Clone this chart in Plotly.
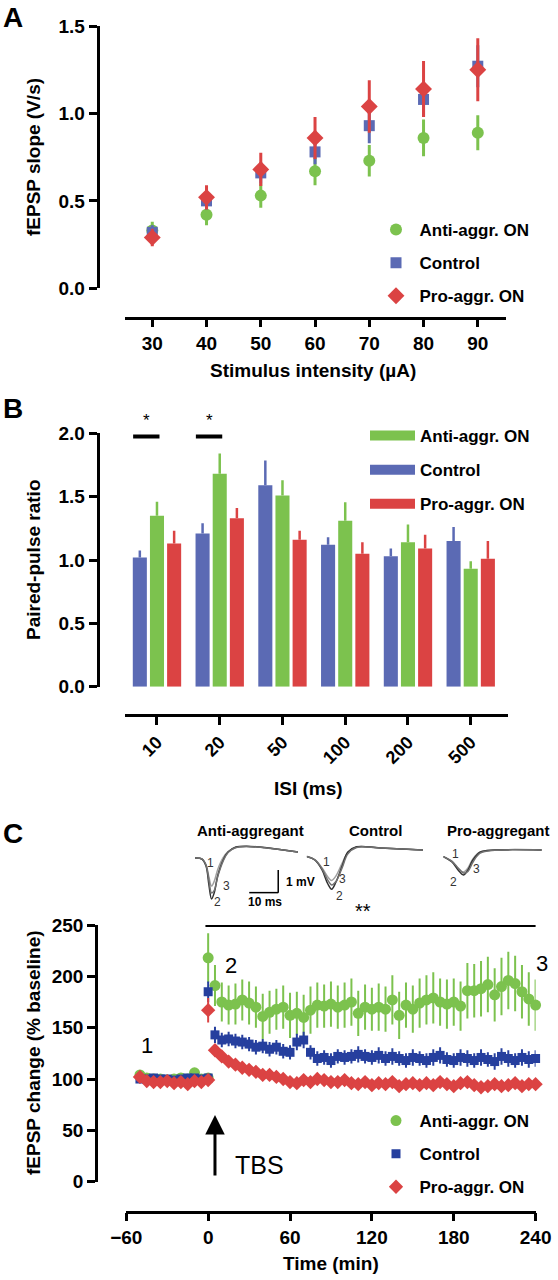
import plotly.graph_objects as go

W, H = 558, 1280
FONT = "Liberation Sans, Arial, sans-serif"

GREEN = "#7CC24E"
BLUE_A = "#5B6AB4"
BLUE_C = "#263F9E"
RED = "#DB4343"

# ---------------- Panel A data ----------------
stim = [30, 40, 50, 60, 70, 80, 90]
a_anti = [0.33, 0.42, 0.53, 0.67, 0.73, 0.86, 0.89]
a_anti_err = [0.05, 0.06, 0.07, 0.08, 0.09, 0.105, 0.10]
a_ctrl = [0.32, 0.50, 0.66, 0.78, 0.93, 1.08, 1.27]
a_ctrl_err = [0.04, 0.05, 0.06, 0.07, 0.10, 0.10, 0.12]
a_pro = [0.29, 0.52, 0.68, 0.86, 1.04, 1.14, 1.25]
a_pro_err = [0.05, 0.07, 0.095, 0.12, 0.15, 0.16, 0.18]

# ---------------- Panel B data ----------------
isi = ["10", "20", "50", "100", "200", "500"]
b_ctrl = [1.02, 1.21, 1.59, 1.12, 1.03, 1.15]
b_ctrl_err = [0.055, 0.08, 0.195, 0.06, 0.06, 0.11]
b_anti = [1.35, 1.68, 1.51, 1.31, 1.14, 0.93]
b_anti_err = [0.11, 0.16, 0.12, 0.145, 0.14, 0.06]
b_pro = [1.13, 1.33, 1.16, 1.05, 1.09, 1.01]
b_pro_err = [0.10, 0.08, 0.07, 0.09, 0.11, 0.14]
sig_isi = ["10", "20"]
sig_text = ["*", "*"]

# ---------------- Panel C data ----------------
base_t = [-50, -45, -40, -35, -30, -25, -20, -15, -10, -5, 0]
post_t = [0, 5, 10, 15, 20, 25, 30, 35, 40, 45, 50, 55, 60, 65, 70, 75, 80, 85, 90, 95,
          100, 105, 110, 115, 120, 125, 130, 135, 140, 145, 150, 155, 160, 165, 170, 175,
          180, 185, 190, 195, 200, 205, 210, 215, 220, 225, 230, 235, 240]
c_anti_base = [104, 101, 100, 100, 99, 100, 101, 100, 106, 100, 101]
c_anti_base_err = [4, 3, 3, 3, 3, 3, 3, 3, 4, 3, 3]
c_ctrl_base = [100, 100, 101, 100, 100, 99, 100, 101, 101, 100, 101]
c_ctrl_base_err = [4, 4, 4, 4, 4, 4, 4, 4, 4, 4, 4]
c_pro_base = [102, 98, 97, 97, 98, 96, 97, 95, 98, 97, 99]
c_pro_base_err = [3, 3, 3, 3, 3, 3, 3, 3, 3, 3, 3]

c_anti_post = [218, 191, 175, 172, 173, 177, 174, 170, 161, 165,
               168, 170, 162, 164, 160, 167, 172, 171, 173, 170,
               172, 175, 164, 170, 168, 170, 168, 177, 162, 172,
               168, 174, 177, 179, 175, 173, 175, 171, 186, 186,
               188, 192, 182, 190, 196, 193, 185, 178, 172]
c_anti_post_err = [24, 20, 19, 19, 20, 20, 21, 20, 22, 21,
                   20, 21, 22, 21, 22, 23, 22, 21, 22, 21,
                   22, 23, 22, 22, 21, 23, 22, 24, 23, 22,
                   23, 24, 24, 25, 23, 24, 23, 24, 27, 26,
                   27, 27, 26, 28, 28, 27, 26, 26, 25]
c_ctrl_post = [185, 143, 138, 139, 137, 136, 134, 131, 132, 129,
               131, 127, 126, 136, 138, 126, 120, 121, 118, 122,
               121, 122, 124, 122, 121, 123, 120, 122, 120, 118,
               121, 120, 118, 121, 123, 119, 118, 121, 120, 118,
               121, 119, 117, 122, 120, 118, 121, 119, 120]
c_ctrl_post_err = [10, 8, 7, 7, 7, 7, 7, 7, 7, 7,
                   7, 7, 7, 8, 8, 7, 7, 7, 7, 7,
                   7, 7, 8, 7, 7, 8, 7, 8, 7, 7,
                   8, 7, 7, 8, 8, 7, 7, 8, 8, 7,
                   8, 7, 8, 8, 8, 7, 8, 8, 8]
c_pro_post = [167, 128, 122, 117, 114, 111, 109, 107, 104, 104,
              102, 100, 97, 96, 99, 97, 100, 99, 97, 97,
              99, 96, 95, 97, 94, 96, 95, 97, 93, 95,
              96, 94, 96, 94, 97, 95, 93, 96, 97, 94,
              92, 93, 95, 93, 94, 96, 93, 95, 95]
c_pro_post_err = [12, 6, 5, 5, 5, 5, 5, 5, 5, 5,
                  5, 5, 5, 5, 5, 5, 5, 5, 5, 5,
                  5, 5, 5, 5, 5, 5, 5, 5, 5, 5,
                  5, 5, 5, 5, 5, 5, 5, 5, 5, 5,
                  5, 5, 5, 5, 5, 5, 5, 5, 5]

# example fEPSP sweeps (ms, mV); 1 = baseline, 2 = post-TBS, 3 = 240 min
anti_ms = [0, 2.4, 3.8, 4.8, 5.7, 6.6, 7.9, 9.7, 11.4, 14.1, 17.6, 24.1, 35.5]
anti_s1 = [-0.26, -0.30, -0.55, -1.10, -1.50, -1.30, -0.75, -0.25, 0.02, 0.20, 0.24, 0.19, 0.0]
anti_s2 = [-0.26, -0.31, -0.62, -1.45, -2.07, -1.81, -1.01, -0.35, 0.0, 0.22, 0.26, 0.20, 0.0]
anti_s3 = [-0.26, -0.30, -0.58, -1.25, -1.80, -1.70, -1.05, -0.40, -0.02, 0.20, 0.25, 0.19, 0.0]
ctrl_ms = [0, 2.8, 5.3, 7.3, 8.6, 10.1, 12.2, 14.2, 17.2, 25.3, 40.1]
ctrl_s1 = [-0.20, -0.33, -0.70, -1.10, -1.25, -1.05, -0.50, -0.02, 0.22, 0.18, 0.09]
ctrl_s2 = [-0.20, -0.35, -0.79, -1.41, -1.64, -1.32, -0.62, 0.0, 0.23, 0.18, 0.09]
ctrl_s3 = [-0.20, -0.34, -0.74, -1.25, -1.45, -1.30, -0.70, -0.08, 0.20, 0.18, 0.09]
pro_ms = [0, 3.0, 5.1, 6.9, 8.5, 10.2, 12.7, 17.8, 33.9]
pro_s1 = [-0.20, -0.40, -0.72, -0.88, -0.70, -0.30, 0.0, 0.09, 0.09]
pro_s2 = [-0.20, -0.44, -0.79, -1.01, -0.79, -0.35, 0.0, 0.09, 0.09]
pro_s3 = [-0.20, -0.42, -0.70, -0.92, -0.85, -0.45, -0.05, 0.08, 0.09]
scale_ms = 10
scale_mv = 1

series_names = ["Anti-aggr. ON", "Control", "Pro-aggr. ON"]


def px(x):
    return x / W


def py(y):
    return 1 - y / H


fig = go.Figure()

# ---------------- Panel A traces ----------------
for name, vals, errs, col, sym, size, grp in [
    (series_names[0], a_anti, a_anti_err, GREEN, "circle", 12, "a1"),
    (series_names[1], a_ctrl, a_ctrl_err, BLUE_A, "square", 11, "a2"),
    (series_names[2], a_pro, a_pro_err, RED, "diamond", 13, "a3"),
]:
    fig.add_trace(go.Scatter(
        x=stim, y=vals, mode="markers", name=name, legend="legend", legendgroup=grp,
        marker=dict(symbol=sym, size=size, color=col, line=dict(width=0)),
        error_y=dict(type="data", array=errs, color=col, thickness=3, width=0),
        xaxis="x", yaxis="y", cliponaxis=False))

# ---------------- Panel B traces ----------------
for name, vals, errs, col in [
    (series_names[1], b_ctrl, b_ctrl_err, BLUE_A),
    (series_names[0], b_anti, b_anti_err, GREEN),
    (series_names[2], b_pro, b_pro_err, RED),
]:
    fig.add_trace(go.Bar(
        x=isi, y=vals, name=name, showlegend=False, marker=dict(color=col, line=dict(width=0)),
        error_y=dict(type="data", array=errs, arrayminus=[0] * len(errs), symmetric=False,
                     color=col, thickness=2.5, width=0),
        xaxis="x2", yaxis="y2"))
# legend swatches for panel B
for name, col, grp in [(series_names[0], GREEN, "b1"), (series_names[1], BLUE_A, "b2"),
                       (series_names[2], RED, "b3")]:
    fig.add_trace(go.Scatter(
        x=[None], y=[None], mode="lines", name=name, legend="legend2", legendgroup=grp,
        line=dict(color=col, width=15), xaxis="x2", yaxis="y2"))

# ---------------- Panel C traces ----------------
for name, bv, be, pv, pe, col, sym, size, grp in [
    (series_names[0], c_anti_base, c_anti_base_err, c_anti_post, c_anti_post_err, GREEN, "circle", 11, "c1"),
    (series_names[1], c_ctrl_base, c_ctrl_base_err, c_ctrl_post, c_ctrl_post_err, BLUE_C, "square", 9, "c2"),
    (series_names[2], c_pro_base, c_pro_base_err, c_pro_post, c_pro_post_err, RED, "diamond", 11, "c3"),
]:
    fig.add_trace(go.Scatter(
        x=base_t + post_t, y=bv + pv, mode="markers", name=name, legend="legend3", legendgroup=grp,
        marker=dict(symbol=sym, size=size, color=col, line=dict(width=0)),
        error_y=dict(type="data", array=be + pe, color=col, thickness=2, width=0),
        xaxis="x3", yaxis="y3", cliponaxis=False))

# inset sweeps
sweep_cols = ["#a0a0a0", "#303030", "#707070"]
for ms, sweeps, ax in [(anti_ms, [anti_s1, anti_s2, anti_s3], "4"),
                       (ctrl_ms, [ctrl_s1, ctrl_s2, ctrl_s3], "5"),
                       (pro_ms, [pro_s1, pro_s2, pro_s3], "6")]:
    for s, c in zip(sweeps, sweep_cols):
        fig.add_trace(go.Scatter(x=ms, y=s, mode="lines", showlegend=False,
                                 line=dict(color=c, width=1.5, shape="spline"),
                                 xaxis="x" + ax, yaxis="y" + ax, cliponaxis=False))

# ---------------- axes ----------------
tickfont = dict(family=FONT, size=19, color="black", weight="bold")
common = dict(showline=True, linecolor="black", linewidth=2.5, ticks="outside", ticklen=8,
              tickwidth=2.5, tickcolor="black", showgrid=False, zeroline=False,
              tickfont=tickfont, anchor="free", fixedrange=True, automargin=False)

layout = dict(
    width=W, height=H, margin=dict(l=0, r=0, t=0, b=0, pad=0, autoexpand=False),
    paper_bgcolor="white", plot_bgcolor="white", showlegend=True,
    font=dict(family=FONT, color="black"),
    barmode="group", bargap=0.18, bargroupgap=0.18,
    xaxis=dict(common, domain=[px(124.6), px(506)], range=[24.9, 95.2], tickvals=stim,
               position=py(317.7)),
    yaxis=dict(common, domain=[py(288.3), py(26)], range=[0, 1.5], dtick=0.5, tickformat=".1f",
               position=px(97.5)),
    xaxis2=dict(common, domain=[px(124.6), px(508)], type="category", range=[-0.516, 5.594],
                tickangle=-45, position=py(715), tickfont=dict(tickfont, size=18)),
    yaxis2=dict(common, domain=[py(686.7), py(433.3)], range=[0, 2.0], dtick=0.5, tickformat=".1f",
                position=px(97.5)),
    xaxis3=dict(common, domain=[px(126.3), px(535.6)], range=[-60, 240], dtick=60,
                position=py(1211.7)),
    yaxis3=dict(common, domain=[py(1181.7), py(925)], range=[0, 250], dtick=50,
                position=px(96)),
)
inset_dom = [py(906), py(838)]
for ax, x0, x1 in [("4", 195, 300), ("5", 306.7, 430), ("6", 443.3, 548)]:
    layout["xaxis" + ax] = dict(visible=False, domain=[px(x0), px(x1)], range=[0, (x1 - x0) / 2.9],
                                anchor="y" + ax, fixedrange=True)
    layout["yaxis" + ax] = dict(visible=False, domain=inset_dom, range=[-2.38, 0.62],
                                anchor="x" + ax, fixedrange=True)

legfont = dict(family=FONT, size=17, color="black", weight="bold")
layout["legend"] = dict(x=px(372.5), y=py(212), xanchor="left", yanchor="top", font=legfont,
                        tracegroupgap=8, itemwidth=37, bgcolor="rgba(0,0,0,0)",
                        itemclick=False, itemdoubleclick=False)
layout["legend2"] = dict(x=px(365), y=py(418), xanchor="left", yanchor="top", font=legfont,
                         tracegroupgap=9, itemwidth=45, bgcolor="rgba(0,0,0,0)",
                         itemclick=False, itemdoubleclick=False)
layout["legend3"] = dict(x=px(372.5), y=py(1103), xanchor="left", yanchor="top", font=legfont,
                         tracegroupgap=8, itemwidth=37, bgcolor="rgba(0,0,0,0)",
                         itemclick=False, itemdoubleclick=False)

fig.update_layout(**layout)

# ---------------- annotations ----------------
ann = []
titlefont = dict(family=FONT, size=19, color="black", weight="bold")


def text(x, y, t, font, **kw):
    d = dict(x=px(x), y=py(y), xref="paper", yref="paper", text=t, showarrow=False, font=font,
             xanchor="center", yanchor="middle")
    d.update(kw)
    ann.append(d)


text(313, 370, "Stimulus intensity (µA)", titlefont)
text(33, 157, "fEPSP slope (V/s)", titlefont, textangle=-90)
text(308, 788, "ISI (ms)", titlefont)
text(33, 560, "Paired-pulse ratio", titlefont, textangle=-90)
text(331, 1263, "Time (min)", titlefont)
text(33, 1053, "fEPSP change (% baseline)", titlefont, textangle=-90)

labfont = dict(family=FONT, size=28, color="black", weight="bold")
text(13, 17, "A", labfont)
text(13, 408, "B", labfont)
text(13, 833, "C", labfont)

# significance markers in panel B (positions derived from the category axis)
x2dom = layout["xaxis2"]["domain"]
x2rng = layout["xaxis2"]["range"]


def cat_to_paper(v):
    return x2dom[0] + (v - x2rng[0]) / (x2rng[1] - x2rng[0]) * (x2dom[1] - x2dom[0])


shapes = []
for cat, t in zip(sig_isi, sig_text):
    i = isi.index(cat)
    shapes.append(dict(type="line", xref="x2", yref="y2", x0=i - 0.38, x1=i + 0.04, y0=1.975, y1=1.975,
                       line=dict(color="black", width=4)))
    ann.append(dict(x=cat_to_paper(i - 0.17), y=py(421), xref="paper", yref="paper", text=t,
                    showarrow=False, font=dict(family=FONT, size=17, color="black"),
                    xanchor="center", yanchor="middle"))

# panel C decorations
numfont = dict(family=FONT, size=22, color="black")
text(146.7, 1045, "1", numfont)
text(230.7, 965, "2", numfont)
text(541.7, 963, "3", numfont)
ann.append(dict(x=5, y=65, xref="x3", yref="y3", text="", showarrow=True, ax=0, ay=62,
                arrowhead=2, arrowsize=1.3, arrowwidth=3, arrowcolor="black"))
text(259, 1165, "TBS", dict(family=FONT, size=25, color="black"))

x3dom = layout["xaxis3"]["domain"]


def t_to_paper(t):
    return x3dom[0] + (t + 60) / 300 * (x3dom[1] - x3dom[0])


shapes.append(dict(type="line", xref="paper", yref="paper", x0=t_to_paper(-2), x1=t_to_paper(240),
                   y0=py(926), y1=py(926), line=dict(color="black", width=2)))
text(363, 911, "**", dict(family=FONT, size=20, color="black"))

# insets
inset_title = dict(family=FONT, size=15, color="black", weight="bold")
text(250, 830, "Anti-aggregant", inset_title)
text(375, 830, "Control", inset_title)
text(498, 830, "Pro-aggregant", inset_title)
small = dict(family=FONT, size=12, color="#333333")
for (x, y, t) in [(210, 862.7, "1"), (226, 886, "3"), (217.7, 902, "2"),
                  (326.7, 861.7, "1"), (342.7, 879.3, "3"), (339.3, 896, "2"),
                  (455, 854, "1"), (476.7, 869.3, "3"), (453.3, 881.7, "2")]:
    text(x, y, t, small)
# scale bar in anti-aggregant inset axis
sb_x1 = 28.7
sb_y0 = -1.79
shapes.append(dict(type="line", xref="x4", yref="y4", x0=sb_x1 - scale_ms, x1=sb_x1, y0=sb_y0, y1=sb_y0,
                   line=dict(color="black", width=1.5)))
shapes.append(dict(type="line", xref="x4", yref="y4", x0=sb_x1, x1=sb_x1, y0=sb_y0, y1=sb_y0 + scale_mv,
                   line=dict(color="black", width=1.5)))
sbfont = dict(family=FONT, size=12, color="black", weight="bold")
text(284, 881.7, "%d mV" % scale_mv, sbfont, xanchor="left")
text(265, 901.7, "%d ms" % scale_ms, sbfont)

fig.update_layout(annotations=ann, shapes=shapes)
fig.write_html("out.html", config={"displayModeBar": False},
               post_script="document.body.style.margin='0';")
